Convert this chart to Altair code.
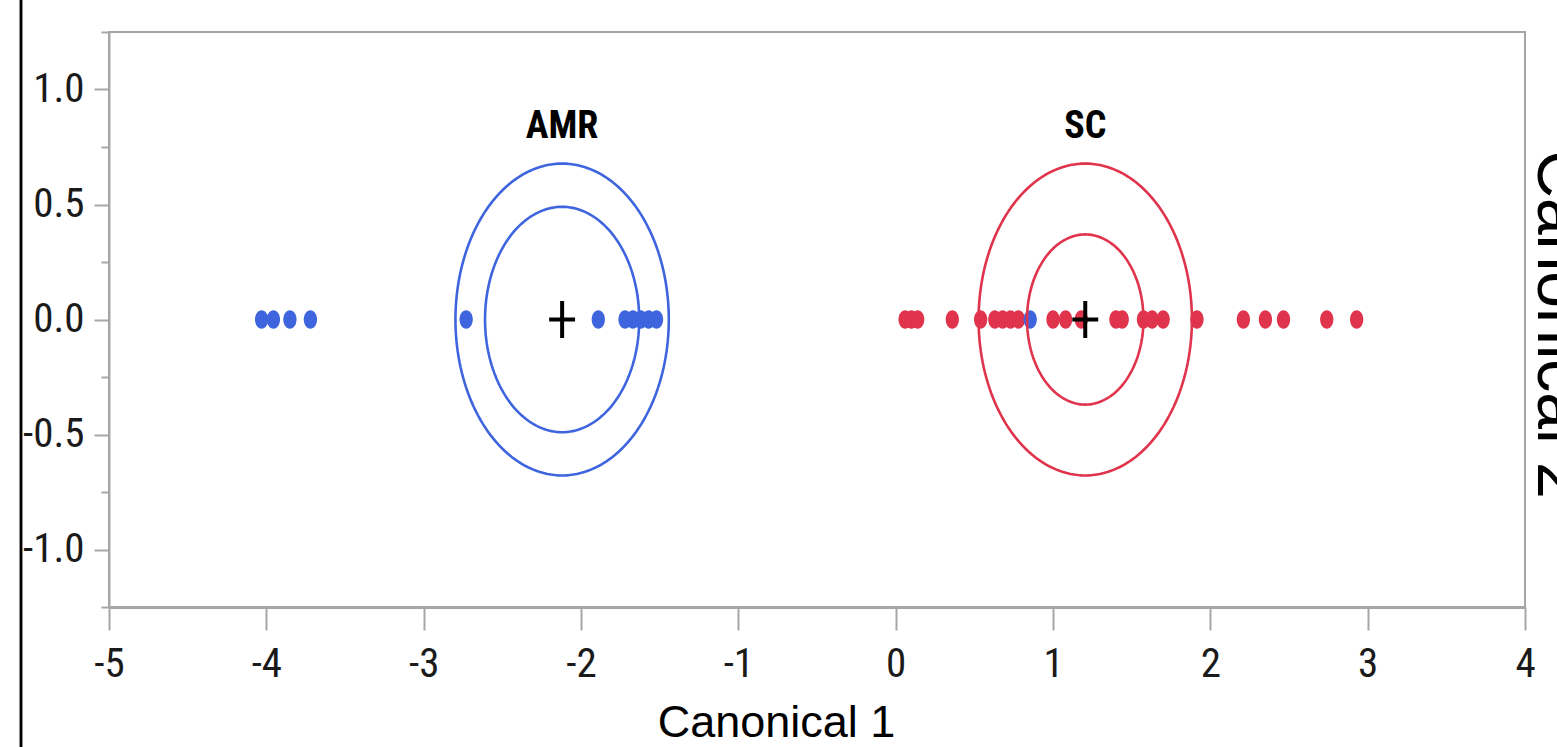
import altair as alt
import numpy as np
import pandas as pd

# ---- data ----
groups = ["AMR", "SC"]
colors = ["#3E64DE", "#E0334C"]
amr_x = [-4.03, -3.955, -3.85, -3.72, -2.73, -1.89, -1.72, -1.67, -1.62, -1.57, -1.52, 0.855]
sc_x = [0.06, 0.10, 0.14, 0.36, 0.54, 0.63, 0.68, 0.73, 0.78, 1.00, 1.08, 1.18,
        1.40, 1.44, 1.575, 1.63, 1.70, 1.915, 2.21, 2.35, 2.465, 2.74, 2.93]
canon2_value = 0.0
center_x = [-2.12, 1.205]
center_y = [0.0, 0.0]
outer_r = [0.678, 0.678]
inner_r = [0.49, 0.37]
label_y = [0.79, 0.79]
x_ticks = [-5, -4, -3, -2, -1, 0, 1, 2, 3, 4]
y_ticks = [-1.25, -1.0, -0.75, -0.5, -0.25, 0.0, 0.25, 0.5, 0.75, 1.0, 1.25]

# ---- tables ----
pts = pd.DataFrame(
    {"c1": sc_x + amr_x,
     "c2": [canon2_value] * (len(sc_x) + len(amr_x)),
     "group": ["SC"] * len(sc_x) + ["AMR"] * len(amr_x)}
)
cent = pd.DataFrame({"c1": center_x, "c2": center_y, "group": groups, "ly": label_y})

t = np.linspace(0, 2 * np.pi, 181)
rows = []
for g, cx, cy, ro, ri in zip(groups, center_x, center_y, outer_r, inner_r):
    for ring, r in (("outer", ro), ("inner", ri)):
        for i, a in enumerate(t):
            rows.append({"group": g, "ring": g + ring, "i": i,
                         "c1": cx + r * np.cos(a), "c2": cy + r * np.sin(a)})
rings = pd.DataFrame(rows)

# ---- scales / axes ----
GRAY = "#A6A6A6"
TICKFONT = "Liberation Sans Narrow, Roboto Condensed, DejaVu Sans Condensed, Liberation Sans, sans-serif"
xscale = alt.Scale(domain=[-5, 4], nice=False, zero=False)
yscale = alt.Scale(domain=[-1.25, 1.25], nice=False, zero=False)
cscale = alt.Scale(domain=groups, range=colors)

x_axis = alt.Axis(
    values=x_ticks, grid=False, domainColor=GRAY, domainWidth=3,
    tickColor=GRAY, tickWidth=2, tickSize=23,
    labelFont=TICKFONT, labelFontSize=41, labelColor="#1a1a1a", labelPadding=14,
    labelOverlap=False, labelFlush=False,
    labelExpr="replace(format(datum.value, 'd'), '\u2212', '-')",
    title="Canonical 1", titleFont="Liberation Sans", titleFontSize=45,
    titleFontWeight="normal", titleColor="black",
    titleX=667, titleY=129, titleAlign="center", titleBaseline="alphabetic",
)
y_axis = alt.Axis(
    values=y_ticks, grid=False, domainColor=GRAY, domainWidth=2,
    tickColor=GRAY, tickWidth=2,
    tickSize={"condition": {"test": "abs(datum.value % 0.5) < 1e-9", "value": 15}, "value": 8},
    labelFont=TICKFONT, labelFontSize=41, labelColor="#1a1a1a", labelPadding=10,
    labelOverlap=False, labelFlush=False, labelBaseline="middle",
    labelExpr="abs(datum.value % 0.5) < 1e-9 ? replace(format(datum.value, '.1f'), '\u2212', '-') : ''",
    title=None,
)
y_axis_right = alt.Axis(
    orient="right", labels=False, ticks=False, domain=False, grid=False,
    title="Canonical 2", titleFont="Liberation Sans", titleFontSize=66,
    titleFontWeight="normal", titleColor="black", titleAngle=90,
    titleAlign="center", titleBaseline="alphabetic", titleX=12, titleY=292,
)

ellipse = "M-0.72,0A0.72,1 0 1,0 0.72,0A0.72,1 0 1,0 -0.72,0Z"
cross = "M-0.7,0H0.7M0,-1V1"

points = alt.Chart(pts).mark_point(
    shape=ellipse, filled=True, size=340, opacity=1, strokeWidth=0
).encode(
    x=alt.X("c1:Q", scale=xscale, axis=x_axis),
    y=alt.Y("c2:Q", scale=yscale, axis=y_axis),
    color=alt.Color("group:N", scale=cscale, legend=None),
)

circles = alt.Chart(rings).mark_line(strokeWidth=2.6).encode(
    x=alt.X("c1:Q", scale=xscale, axis=x_axis),
    y=alt.Y("c2:Q", scale=yscale, axis=y_axis),
    color=alt.Color("group:N", scale=cscale, legend=None),
    detail="ring:N",
    order="i:Q",
)

crosses = alt.Chart(cent).mark_point(
    shape=cross, filled=False, size=1369, color="black", strokeWidth=4, opacity=1
).encode(
    x=alt.X("c1:Q", scale=xscale, axis=x_axis),
    y=alt.Y("c2:Q", scale=yscale, axis=y_axis),
)

border = alt.Chart(cent).mark_rule(color="black", strokeWidth=2.5).encode(
    x=alt.value(-88), y=alt.value(-32), y2=alt.value(715)
)

inner = alt.layer(points, circles, crosses, border)

labels = alt.Chart(cent).mark_text(
    font="Liberation Sans Narrow, Roboto Condensed, Liberation Sans, sans-serif",
    fontWeight="bold", fontSize=38, baseline="alphabetic", align="center", color="black"
).encode(
    x=alt.X("c1:Q", scale=xscale, axis=x_axis),
    y=alt.Y("ly:Q", scale=yscale, axis=y_axis_right),
    text="group:N",
)

chart = alt.layer(inner, labels).resolve_axis(y="independent").properties(
    width=1416, height=575,
    autosize=alt.AutoSizeParams(type="none"),
    padding={"left": 109, "right": 32, "top": 32, "bottom": 140},
    background="white",
).configure_view(stroke=GRAY, strokeWidth=2)

chart.save("out.html", embed_options={"renderer": "svg", "actions": False})
